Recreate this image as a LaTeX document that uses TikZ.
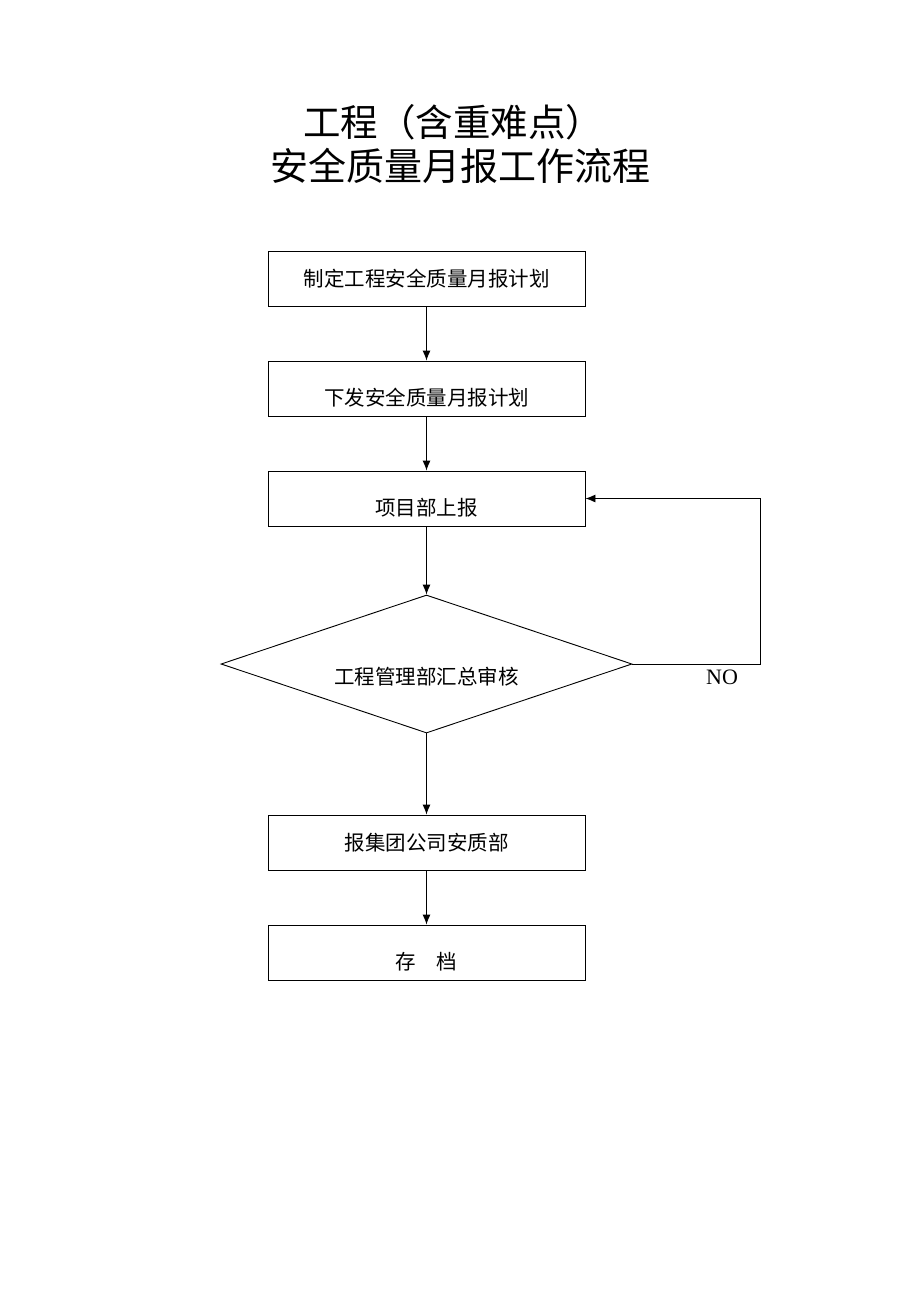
\documentclass[tikz,border=0pt]{standalone}
\usepackage{fontspec}
\setmainfont{Liberation Serif}
\newfontfamily\cjk{Noto Sans CJK SC}
\usetikzlibrary{positioning}
\usetikzlibrary{arrows.meta}
\usetikzlibrary{shapes.geometric}
\newcommand{\lowered}[2]{\raisebox{-#1}[\height][\depth]{#2}}

\begin{document}
\begin{tikzpicture}[x=1pt,y=-1pt,
    stepbox/.style={draw, line width=0.9pt, minimum width=317pt, minimum height=55pt, font=\cjk\fontsize{20.5}{22}\selectfont},
    flow/.style={-{Latex[length=10pt,width=8pt]}, line width=0.9pt}]
			% page frame
			\useasboundingbox (0,0) rectangle (920,1301);
			
			% title
			\node[font=\cjk\fontsize{37.5}{40}\selectfont] (title1) at (453,122) {工程（含重难点）};
			\node[font=\cjk\fontsize{38}{40}\selectfont] (title2) at (460,166) {安全质量月报工作流程};
			
			% the steps
			\node[stepbox] (plan) at (426.5,278.5) {制定工程安全质量月报计划};
			\node[stepbox] (issue) at (426.5,388.5) {\lowered{9pt}{下发安全质量月报计划}};
			\node[stepbox] (report) at (426.5,498.5) {\lowered{9pt}{项目部上报}};
			\node[draw, line width=0.9pt, diamond, aspect=3, minimum width=411pt, minimum height=138pt, inner sep=0pt] (check) at (426.5,664) {};
			\node[font=\cjk\fontsize{20.5}{22}\selectfont] (checktext) at (426.5,677) {工程管理部汇总审核};
			\node[stepbox] (group) at (426.5,842.5) {\lowered{0pt}{报集团公司安质部}};
			\node[stepbox] (file) at (426.5,952.5) {\lowered{9pt}{存\quad 档}};
			
			% the connectors
			\draw[flow] (plan) -- (issue);
			\draw[flow] (issue) -- (report);
			\draw[flow] (report) -- (check.north);
			\draw[flow] (check.south) -- (group);
			\draw[flow] (group) -- (file);
			\coordinate (turn1) at (760,664);
			\coordinate (turn2) at (760,498.5);
			\draw[flow] (check.east) -- (turn1) -- (turn2) -- (report.east);
			\node[font=\fontsize{22}{24}\selectfont] (no) at (722,677) {NO};
\end{tikzpicture}
\end{document}
